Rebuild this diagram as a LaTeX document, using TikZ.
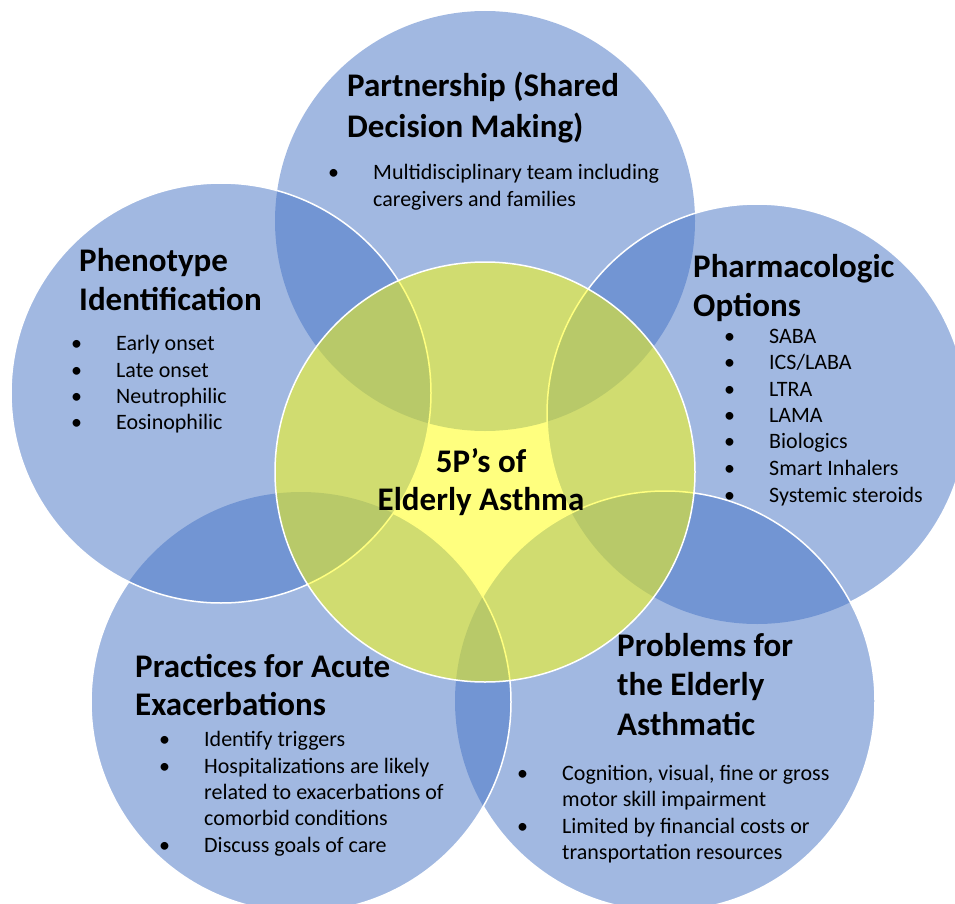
\documentclass[tikz,border=0pt]{standalone}
\usepackage{fontspec}
\setmainfont{Carlito}
\usepackage{tikz}
\usepackage{xcolor}
\definecolor{petalblue}{RGB}{68,114,196}
\definecolor{coreyellow}{RGB}{255,255,0}
\tikzstyle{petal} = [fill=petalblue, fill opacity=0.5]
\tikzstyle{kernel} = [fill=coreyellow, fill opacity=0.5]
\tikzstyle{rim} = [draw=white, line width=1.5pt]
\tikzstyle{head} = [font=\fontsize{33}{40}\selectfont\bfseries, anchor=base west, inner sep=0pt]
\tikzstyle{body} = [font=\fontsize{22}{26}\selectfont, anchor=base west, inner sep=0pt]
% bullet line: name, x of text, baseline, text
\newcommand{\bul}[4]{\node[body] (#1) at (#2-45,#3) {\makebox[45pt][l]{\textbullet}#4};}

\begin{document}
\begin{tikzpicture}[x=1pt, y=-1pt]
        \useasboundingbox (0,0) rectangle (955,904);

        \coordinate (partner) at (485,221);
        \coordinate (pheno) at (221,393);
        \coordinate (pharma) at (757,414);
        \coordinate (practice) at (301,702);
        \coordinate (problem) at (665,701);
        \coordinate (core) at (485,472);

        % Blue circles, back to front
        \fill[petal] (partner) circle (210);

        \fill[petal] (pharma) circle (210);
        \begin{scope}[even odd rule]
            \clip (-100,-100) rectangle (1100,1000) (problem) circle (210);
            \draw[rim] (pharma) circle (210);
        \end{scope}

        \fill[petal] (problem) circle (210);
        \begin{scope}[even odd rule]
            \clip (-100,-100) rectangle (1100,1000) (practice) circle (210);
            \draw[rim] (problem) circle (210);
        \end{scope}

        \fill[petal] (practice) circle (210);
        \begin{scope}[even odd rule]
            \clip (-100,-100) rectangle (1100,1000) (pheno) circle (210);
            \draw[rim] (practice) circle (210);
        \end{scope}

        \fill[petal] (pheno) circle (210);
        \draw[rim] (pheno) circle (210);

        % Yellow centre
        \fill[kernel] (core) circle (210);
        \draw[rim] (core) circle (210);

        % Centre title
        \node[head, anchor=base] (title1) at (481,472) {5P’s of};
        \node[head, anchor=base] (title2) at (481,510) {Elderly Asthma};

        % Partnership
        \node[head] (partnerA) at (347,97) {Partnership (Shared};
        \node[head] (partnerB) at (347,138) {Decision Making)};
        \bul{partner1}{373}{180}{Multidisciplinary team including}
        \node[body] (partner2) at (373,206) {caregivers and families};

        % Phenotype
        \node[head] (phenoA) at (79,271) {Phenotype};
        \node[head] (phenoB) at (79,310) {Identification};
        \bul{pheno1}{116}{350}{Early onset}
        \bul{pheno2}{116}{377}{Late onset}
        \bul{pheno3}{116}{403}{Neutrophilic}
        \bul{pheno4}{116}{429}{Eosinophilic}

        % Pharmacologic
        \node[head] (pharmaA) at (693,277) {Pharmacologic};
        \node[head] (pharmaB) at (693,316) {Options};
        \bul{pharma1}{769}{343}{SABA}
        \bul{pharma2}{769}{369}{ICS/LABA}
        \bul{pharma3}{769}{396}{LTRA}
        \bul{pharma4}{769}{422}{LAMA}
        \bul{pharma5}{769}{448}{Biologics}
        \bul{pharma6}{769}{475}{Smart Inhalers}
        \bul{pharma7}{769}{502}{Systemic steroids}

        % Practices
        \node[head] (practiceA) at (135,677) {Practices for Acute};
        \node[head] (practiceB) at (135,715) {Exacerbations};
        \bul{practice1}{204}{746}{Identify triggers}
        \bul{practice2}{204}{773}{Hospitalizations are likely}
        \node[body] (practice3) at (204,799) {related to exacerbations of};
        \node[body] (practice4) at (204,825) {comorbid conditions};
        \bul{practice5}{204}{852}{Discuss goals of care}

        % Problems
        \node[head] (problemA) at (617,656) {Problems for};
        \node[head] (problemB) at (617,695) {the Elderly};
        \node[head] (problemC) at (617,735) {Asthmatic};
        \bul{problem1}{562}{780}{Cognition, visual, fine or gross}
        \node[body] (problem2) at (562,806) {motor skill impairment};
        \bul{problem3}{562}{833}{Limited by financial costs or}
        \node[body] (problem4) at (562,859) {transportation resources};

    \end{tikzpicture}
\end{document}
